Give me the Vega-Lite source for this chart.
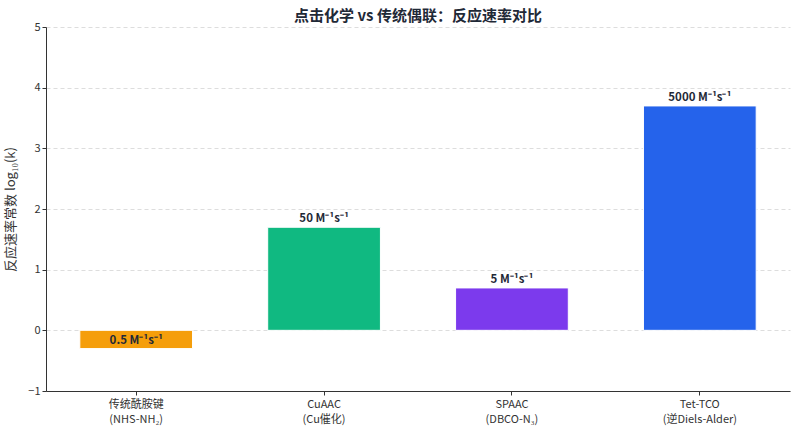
{
  "$schema": "https://vega.github.io/schema/vega-lite/v6.json",
  "description": "Click chemistry vs conventional coupling: reaction rate comparison",
  "width": 744,
  "height": 364,
  "autosize": "none",
  "padding": {"left": 46, "top": 27, "right": 9, "bottom": 42},
  "config": {
    "font": "Noto Sans CJK SC",
    "view": {"stroke": null},
    "axis": {"labelColor": "#333333", "titleColor": "#333333", "domainColor": "#333333", "tickColor": "#333333", "labelFontSize": 11}
  },
  "title": {
    "text": "点击化学 vs 传统偶联：反应速率对比",
    "fontSize": 15,
    "fontWeight": "bold",
    "color": "#1f2937",
    "anchor": "middle",
    "offset": 4,
    "dy": 7
  },
  "data": {
    "values": [
      {"method": "传统酰胺键|(NHS-NH₂)", "logk": -0.301, "label": "0.5 M⁻¹s⁻¹"},
      {"method": "CuAAC|(Cu催化)", "logk": 1.699, "label": "50 M⁻¹s⁻¹"},
      {"method": "SPAAC|(DBCO-N₃)", "logk": 0.699, "label": "5 M⁻¹s⁻¹"},
      {"method": "Tet-TCO|(逆Diels-Alder)", "logk": 3.699, "label": "5000 M⁻¹s⁻¹"}
    ]
  },
  "encoding": {
    "x": {
      "field": "method",
      "type": "nominal",
      "sort": null,
      "scale": {"paddingInner": 0.4, "paddingOuter": 0.18},
      "axis": {"title": null, "labelAngle": 0, "labelExpr": "split(datum.label, '|')", "labelLineHeight": 15, "labelPadding": 3, "tickSize": 4}
    },
    "y": {
      "field": "logk",
      "type": "quantitative",
      "scale": {"domain": [-1, 5], "nice": false},
      "axis": {
        "title": "反应速率常数 log₁₀(k)",
        "titleFontSize": 13,
        "titleFontWeight": "normal",
        "titlePadding": 10,
        "values": [-1, 0, 1, 2, 3, 4, 5],
        "gridDash": [4, 3],
        "gridColor": "#dddddd",
        "tickSize": 4
      }
    }
  },
  "layer": [
    {
      "mark": {"type": "bar", "stroke": "white", "strokeWidth": 1},
      "encoding": {
        "color": {
          "field": "method",
          "type": "nominal",
          "sort": null,
          "scale": {"range": ["#f59e0b", "#10b981", "#7c3aed", "#2563eb"]},
          "legend": null
        }
      }
    },
    {
      "mark": {"type": "text", "baseline": "bottom", "dy": -3, "fontWeight": "bold", "fontSize": 11.5, "color": "#1f2937"},
      "encoding": {"text": {"field": "label"}}
    }
  ]
}
